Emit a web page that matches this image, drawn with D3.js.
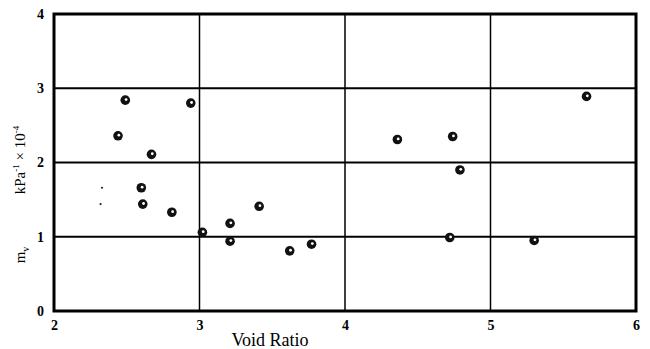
<!DOCTYPE html>
<html>
<head>
<meta charset="utf-8">
<script src="https://cdn.jsdelivr.net/npm/d3@7"></script>
<style>
  html, body { margin: 0; padding: 0; background: #fff; }
  svg { display: block; }
</style>
</head>
<body>
<svg id="chart" width="650" height="349"></svg>
<script>
// Coefficient of volume compressibility against void ratio
const voidRatio = [2.49, 2.44, 2.67, 2.94, 2.60, 2.61, 2.81, 3.02, 3.21, 3.21, 3.41, 3.62, 3.77, 4.36, 4.74, 4.79, 4.72, 5.30, 5.66];
const mvValues  = [2.84, 2.36, 2.11, 2.80, 1.66, 1.44, 1.33, 1.06, 1.18, 0.94, 1.41, 0.81, 0.90, 2.31, 2.35, 1.90, 0.99, 0.95, 2.89];
// two faint extra readings
const smallX = [2.33, 2.32];
const smallY = [1.66, 1.44];

const xTicks = [2, 3, 4, 5, 6];
const yTicks = [0, 1, 2, 3, 4];

const svg = d3.select("#chart");
const x = d3.scaleLinear().domain([2, 6]).range([54, 636]);
const y = d3.scaleLinear().domain([0, 4]).range([311, 14]);

const font = "'Liberation Serif', 'Times New Roman', serif";

// grid lines
svg.append("g").selectAll("line").data(yTicks.slice(1, 4)).join("line")
  .attr("x1", x(2)).attr("x2", x(6))
  .attr("y1", d => y(d)).attr("y2", d => y(d))
  .attr("stroke", "#000").attr("stroke-width", 2.2);
svg.append("g").selectAll("line").data(xTicks.slice(1, 4)).join("line")
  .attr("x1", d => x(d)).attr("x2", d => x(d))
  .attr("y1", y(4)).attr("y2", y(0))
  .attr("stroke", "#000").attr("stroke-width", 1.5);

// frame
svg.append("rect")
  .attr("x", x(2)).attr("y", y(4))
  .attr("width", x(6) - x(2)).attr("height", y(0) - y(4))
  .attr("fill", "none").attr("stroke", "#000").attr("stroke-width", 3);

// axes (labels only; the frame draws the lines)
const xAxis = svg.append("g").attr("transform", `translate(0,${y(0)})`)
  .call(d3.axisBottom(x).tickValues(xTicks).tickFormat(d3.format("d")).tickSize(0).tickPadding(9));
const yAxis = svg.append("g").attr("transform", `translate(${x(2)},0)`)
  .call(d3.axisLeft(y).tickValues(yTicks).tickFormat(d3.format("d")).tickSize(0).tickPadding(10));
[xAxis, yAxis].forEach(a => {
  a.select(".domain").remove();
  a.selectAll("text").attr("font-family", font).attr("font-size", 14)
    .attr("font-weight", "bold").attr("fill", "#000");
});

// axis titles
svg.append("text")
  .attr("x", 270).attr("y", 346)
  .attr("text-anchor", "middle")
  .attr("font-family", font).attr("font-size", 18)
  .text("Void Ratio");

const yTitle = svg.append("text")
  .attr("transform", "translate(25,200) rotate(-90)")
  .attr("font-family", font).attr("font-size", 15).attr("text-anchor", "middle");
yTitle.append("tspan").attr("x", -55).text("m");
yTitle.append("tspan").attr("font-size", 10).attr("dy", 4).text("v");
yTitle.append("tspan").attr("dy", -4).attr("x", 40).text("kPa");
yTitle.append("tspan").attr("font-size", 9).attr("dy", -6).text("-1");
yTitle.append("tspan").attr("dy", 6).text(" × 10");
yTitle.append("tspan").attr("font-size", 9).attr("dy", -6).text("-4");

// data points
const pts = d3.range(voidRatio.length).map(i => ({ vx: voidRatio[i], vy: mvValues[i] }));
const g = svg.append("g");
g.selectAll("circle.pt").data(pts).join("circle")
  .attr("class", "pt")
  .attr("cx", d => x(d.vx)).attr("cy", d => y(d.vy))
  .attr("r", 4.8).attr("fill", "#111");
g.selectAll("circle.hole").data(pts).join("circle")
  .attr("class", "hole")
  .attr("cx", d => x(d.vx) + 0.8).attr("cy", d => y(d.vy) - 0.6)
  .attr("r", 1.4).attr("fill", "#fff");

svg.append("g").selectAll("circle").data(smallX.map((v, i) => ({ vx: v, vy: smallY[i] }))).join("circle")
  .attr("cx", d => x(d.vx)).attr("cy", d => y(d.vy))
  .attr("r", 1.1).attr("fill", "#222");
</script>
</body>
</html>
